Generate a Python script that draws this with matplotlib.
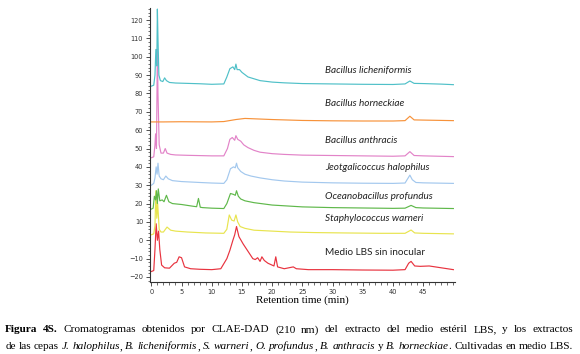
import matplotlib
matplotlib.use('Agg')
import matplotlib.pyplot as plt
from matplotlib.ticker import MultipleLocator

# retention time (min) / signal
lich_t = [0, 0.4, 0.6, 0.75, 0.9, 1.0, 1.1, 1.25, 1.5, 1.9, 2.2, 2.5, 3, 4, 6, 8, 10, 12, 12.5, 13, 13.5, 13.8, 14.0, 14.2, 14.6, 15, 16, 17, 18, 20, 22, 25, 30, 35, 40, 42, 42.8, 43.5, 45, 48, 50]
lich_v = [84, 84.5, 90, 104, 95, 126, 110, 90, 87, 86.5, 88.5, 87, 86, 85.7, 85.5, 85.3, 85, 85.2, 89, 93.5, 94.5, 93, 96, 93, 93, 91.5, 89, 88, 87, 86.2, 85.8, 85.4, 85.2, 85, 84.9, 85.2, 86.8, 85.5, 85.4, 85.1, 84.8]

horn_t = [0, 2, 5, 10, 12, 14, 15.5, 17, 20, 25, 30, 35, 40, 42, 42.8, 43.5, 45, 50]
horn_v = [64.5, 64.5, 64.6, 64.5, 64.7, 65.8, 66.4, 66.2, 65.8, 65.3, 65.1, 65, 65, 65.2, 67.6, 65.6, 65.5, 65.2]

anth_t = [0, 0.4, 0.6, 0.7, 0.85, 1.0, 1.1, 1.3, 1.6, 2.0, 2.3, 2.6, 3.2, 4, 6, 10, 12, 12.6, 13, 13.4, 13.8, 14.0, 14.3, 14.8, 15.3, 16, 17, 18, 20, 22, 25, 30, 35, 40, 42, 42.8, 43.5, 45, 50]
anth_v = [45, 45.5, 52, 58, 50, 104, 80, 52, 47.5, 47.5, 50, 47.5, 46.8, 46.5, 46.3, 46, 46, 50, 55, 56, 54.5, 57, 55, 54, 52, 50.5, 49, 48, 47.2, 46.8, 46.4, 46.2, 46, 45.8, 46, 48.3, 46.2, 46, 45.6]

halo_t = [0, 0.4, 0.6, 0.8, 0.95, 1.1, 1.3, 1.6, 2.0, 2.4, 2.8, 3.5, 5, 8, 10, 12, 12.5, 13.1, 13.6, 13.9, 14.1, 14.3, 14.8, 15.5, 16.5, 18, 20, 22, 25, 30, 35, 40, 42, 42.8, 43.2, 43.8, 45, 50]
halo_v = [30, 31, 34, 40, 36, 42, 35, 33.5, 33, 35, 33.5, 32.5, 32, 31.5, 31.2, 31, 33, 39, 40, 39.5, 42, 39.5, 37.5, 36, 35, 34, 33, 32.3, 31.7, 31.3, 31.1, 31, 31.2, 35.5, 33, 31.5, 31.3, 31]

prof_t = [0, 0.3, 0.5, 0.7, 0.85, 1.0, 1.15, 1.4, 1.8, 2.1, 2.5, 2.9, 3.5, 5, 7, 7.5, 7.8, 8.1, 8.5, 10, 12, 12.5, 13.1, 13.6, 13.9, 14.1, 14.4, 14.8, 15.5, 17, 20, 22, 25, 30, 35, 40, 42, 43, 43.8, 45, 50]
prof_v = [17, 17.5, 24, 22, 27, 20, 28, 21.5, 22, 21, 24.5, 21, 20, 19.5, 18.5, 18.3, 22.8, 18, 17.8, 17.5, 17.3, 20, 25.5, 25, 24.5, 27, 24, 22.5, 21.5, 20.5, 19.2, 18.8, 18.2, 17.8, 17.6, 17.4, 17.5, 19, 17.8, 17.6, 17.3]

warn_t = [0, 0.4, 0.6, 0.75, 0.9, 1.05, 1.3, 1.6, 2.0, 2.6, 3.2, 4, 6, 9, 12, 12.5, 12.9, 13.3, 13.7, 14.0, 14.3, 14.7, 15.5, 17, 20, 23, 27, 32, 38, 42, 43, 43.6, 45, 50]
warn_v = [3, 3.5, 8, 27, 12, 20, 6, 4.5, 4.5, 7.2, 5.5, 5, 4.5, 4, 3.8, 6, 13.8, 11, 10.5, 13.8, 10, 7.5, 6.5, 5.5, 5, 4.5, 4.2, 4, 3.8, 3.8, 5.6, 4, 3.8, 3.5]

medio_t = [0, 0.4, 0.6, 0.8, 1.0, 1.2, 1.4, 1.7, 2.2, 3.0, 3.8, 4.2, 4.6, 5.0, 5.5, 6.5, 8, 10, 11.5, 12.5, 13.0, 13.5, 13.8, 14.1, 14.5, 15.2, 16, 16.8, 17.2, 17.6, 18.0, 18.3, 18.7, 19.3, 20.3, 20.6, 20.9, 22, 23.5, 24, 26, 30, 35, 40, 42, 42.6, 43.0, 43.6, 44.5, 46, 48, 50]
medio_v = [-17, -16.5, -5, 9, 0, 5, -5, -13.5, -15, -15.2, -12.5, -12, -9, -9.5, -14.5, -15.5, -15.8, -16, -15.5, -10, -5.5, 0, 3, 7.5, 2, -2, -6, -10, -10.5, -9.5, -11.5, -9, -11, -12.5, -14, -9, -14.5, -15.5, -14.5, -15.5, -16, -16, -16.2, -16.3, -16, -12.5, -11.5, -14, -14.2, -14, -15, -16]

names = ['Bacillus licheniformis', 'Bacillus horneckiae', 'Bacillus anthracis',
         'Jeotgalicoccus halophilus', 'Oceanobacillus profundus', 'Staphylococcus warneri',
         'Medio LBS sin inocular']
label_y = [92.7, 74.8, 54.6, 39.9, 24.1, 11.6, -6.4]
colors = ['#4fc0c8', '#f7923a', '#e283c8', '#a3c8ee', '#5fb84a', '#e8e44e', '#e8333f']

series = [(lich_t, lich_v), (horn_t, horn_v), (anth_t, anth_v), (halo_t, halo_v),
          (prof_t, prof_v), (warn_t, warn_v), (medio_t, medio_v)]

fig = plt.figure(figsize=(5.8, 3.54), dpi=100)
ax = fig.add_axes([0.2578, 0.202, 0.527, 0.775])

# draw bottom trace first so the tall cyan spike stays on top
for (t, v), c in reversed(list(zip(series, colors))):
    ax.plot(t, v, color=c, lw=0.85)

for name, y in zip(names, label_y):
    style = 'normal' if name.startswith('Medio') else 'italic'
    ax.text(28.8, y, name, fontsize=7.2, style=style, family='Lato',
            color='#222222', va='center', ha='left')

ax.set_xlim(-0.3, 50.3)
ax.set_ylim(-23, 126.5)
ax.spines['top'].set_visible(False)
ax.spines['right'].set_visible(False)
for s in ['left', 'bottom']:
    ax.spines[s].set_color('#333333')
    ax.spines[s].set_linewidth(0.8)

ax.xaxis.set_major_locator(MultipleLocator(5))
ax.xaxis.set_minor_locator(MultipleLocator(1))
ax.yaxis.set_major_locator(MultipleLocator(10))
ax.yaxis.set_minor_locator(MultipleLocator(2))
ax.tick_params(which='major', length=3, width=0.6, labelsize=4.8, colors='#333333', pad=1.5)
ax.tick_params(which='minor', length=1.8, width=0.5, colors='#333333')
ax.set_xticks([0, 5, 10, 15, 20, 25, 30, 35, 40, 45])

ax.set_xlabel('Retention time (min)', family='Liberation Serif', fontsize=8, labelpad=0.5)


# caption: words laid out one by one at one font size, word spacing
# stretched or squeezed so each line is justified like the original
CAP_FONT = 'Liberation Serif'
CAP_SIZE = 8.1
r = fig.canvas.get_renderer()
W = fig.bbox.width


def word_width(txt, w, st):
    t = fig.text(0, 0, txt, fontsize=CAP_SIZE, family=CAP_FONT, weight=w, style=st)
    wd = t.get_window_extent(renderer=r).width / W
    t.remove()
    return wd


def put_line(words, x0, x1, y):
    # words: list of (text, weight, style); a gap is put between entries
    # unless the next entry starts with punctuation
    widths = [word_width(*w) for w in words]
    gaps = [0 if words[i + 1][0][0] in ',.' else 1 for i in range(len(words) - 1)]
    gap = (x1 - x0 - sum(widths)) / sum(gaps)
    x = x0
    for i, ((txt, wt, st), wd) in enumerate(zip(words, widths)):
        fig.text(x, y, txt, fontsize=CAP_SIZE, family=CAP_FONT, weight=wt, style=st,
                 va='center', ha='left')
        x += wd
        if i < len(gaps):
            x += gap * gaps[i]


def plain(s):
    return [(w, 'normal', 'normal') for w in s.split()]


def ital(s):
    return [(w, 'normal', 'italic') for w in s.split()]


line1 = ([('Figura', 'bold', 'normal'), ('4S.', 'bold', 'normal')] +
         plain('Cromatogramas obtenidos por CLAE-DAD (210 nm) del extracto del medio estéril LBS, y los extractos'))
line2 = (plain('de las cepas') + ital('J. halophilus') + plain(',') + ital('B. licheniformis') + plain(',') +
         ital('S. warneri') + plain(',') + ital('O. profundus') + plain(',') + ital('B. anthracis') +
         plain('y') + ital('B. horneckiae') + plain('. Cultivadas en medio LBS.'))

put_line(line1, 0.009, 0.988, 0.068)
put_line(line2, 0.009, 0.988, 0.021)

fig.savefig('out.png', dpi=100)
